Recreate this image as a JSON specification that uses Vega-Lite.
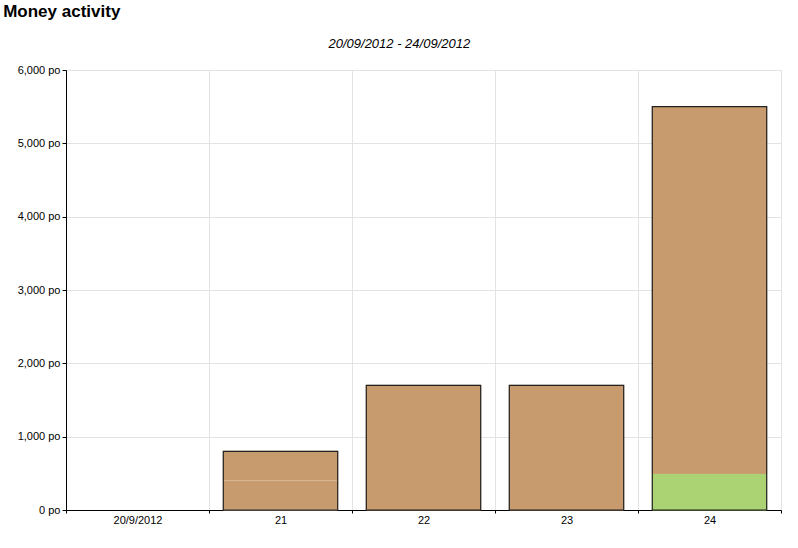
{
  "$schema": "https://vega.github.io/schema/vega-lite/v6.json",
  "padding": {"left": 3, "top": 3, "right": 5, "bottom": 5},
  "background": "white",
  "title": {"text": "Money activity", "anchor": "start", "frame": "bounds", "fontSize": 17, "fontWeight": "bold", "font": "Liberation Sans", "color": "black", "dx": -14, "offset": 17},
  "config": {"view": {"stroke": null}, "font": "Liberation Sans"},
  "datasets": {
    "money": [
      {"day": "21", "type": "Purchases", "amount": 400},
      {"day": "21", "type": "Repairs", "amount": 400},
      {"day": "22", "type": "Purchases", "amount": 1700},
      {"day": "23", "type": "Purchases", "amount": 1700},
      {"day": "24", "type": "Sales", "amount": 500},
      {"day": "24", "type": "Purchases", "amount": 5000}
    ]
  },
  "vconcat": [
    {
      "title": {"text": "20/09/2012 - 24/09/2012", "fontStyle": "italic", "fontWeight": "normal", "fontSize": 13, "anchor": "middle", "frame": "bounds", "color": "black", "offset": 13},
      "width": 715,
      "height": 440,
      "data": {"name": "money"},
      "encoding": {
        "x": {
          "field": "day", "type": "nominal",
          "scale": {"domain": ["20/9/2012", "21", "22", "23", "24"], "paddingInner": 0, "paddingOuter": 0},
          "axis": {"title": null, "labelAngle": 0, "tickBand": "extent", "grid": true, "gridColor": "#e3e3e3", "domainColor": "black", "tickColor": "black", "tickSize": 3, "labelColor": "black", "labelFontSize": 11, "labelPadding": 1}
        }
      },
      "layer": [
        {
          "mark": {"type": "bar", "strokeWidth": 1, "width": {"band": 0.8}},
          "encoding": {
            "y": {
              "field": "amount", "type": "quantitative", "aggregate": "sum", "stack": "zero",
              "scale": {"domain": [0, 6000], "nice": false},
              "axis": {
                "title": null,
                "values": [0, 500, 1000, 1500, 2000, 2500, 3000, 3500, 4000, 4500, 5000, 5500, 6000],
                "labelExpr": "datum.value % 1000 === 0 ? format(datum.value, ',') + ' po' : ''",
                "gridColor": "#e3e3e3",
                "gridOpacity": {"condition": {"test": "datum.value % 1000 !== 0", "value": 0}, "value": 1},
                "tickSize": {"condition": {"test": "datum.value % 1000 !== 0", "value": 2}, "value": 4},
                "domainColor": "black", "tickColor": "black", "labelColor": "black", "labelFontSize": 11, "labelPadding": 2
              }
            },
            "color": {"field": "type", "type": "nominal", "scale": {"domain": ["Sales", "Purchases", "Repairs"], "range": ["#acd373", "#c89b6e", "#c89b6e"]}, "legend": null},
            "stroke": {"field": "type", "type": "nominal", "scale": {"domain": ["Sales", "Purchases", "Repairs"], "range": ["#acd373", "#c89b6e", "#dcba92"]}, "legend": null},
            "order": {"field": "type", "sort": "descending"}
          }
        },
        {
          "transform": [{"aggregate": [{"op": "sum", "field": "amount", "as": "total"}], "groupby": ["day"]}],
          "mark": {"type": "bar", "fillOpacity": 0, "stroke": "#222", "strokeWidth": 1.2, "width": {"band": 0.8}},
          "encoding": {
            "y": {"field": "total", "type": "quantitative"}
          }
        }
      ]
    }
  ]
}
